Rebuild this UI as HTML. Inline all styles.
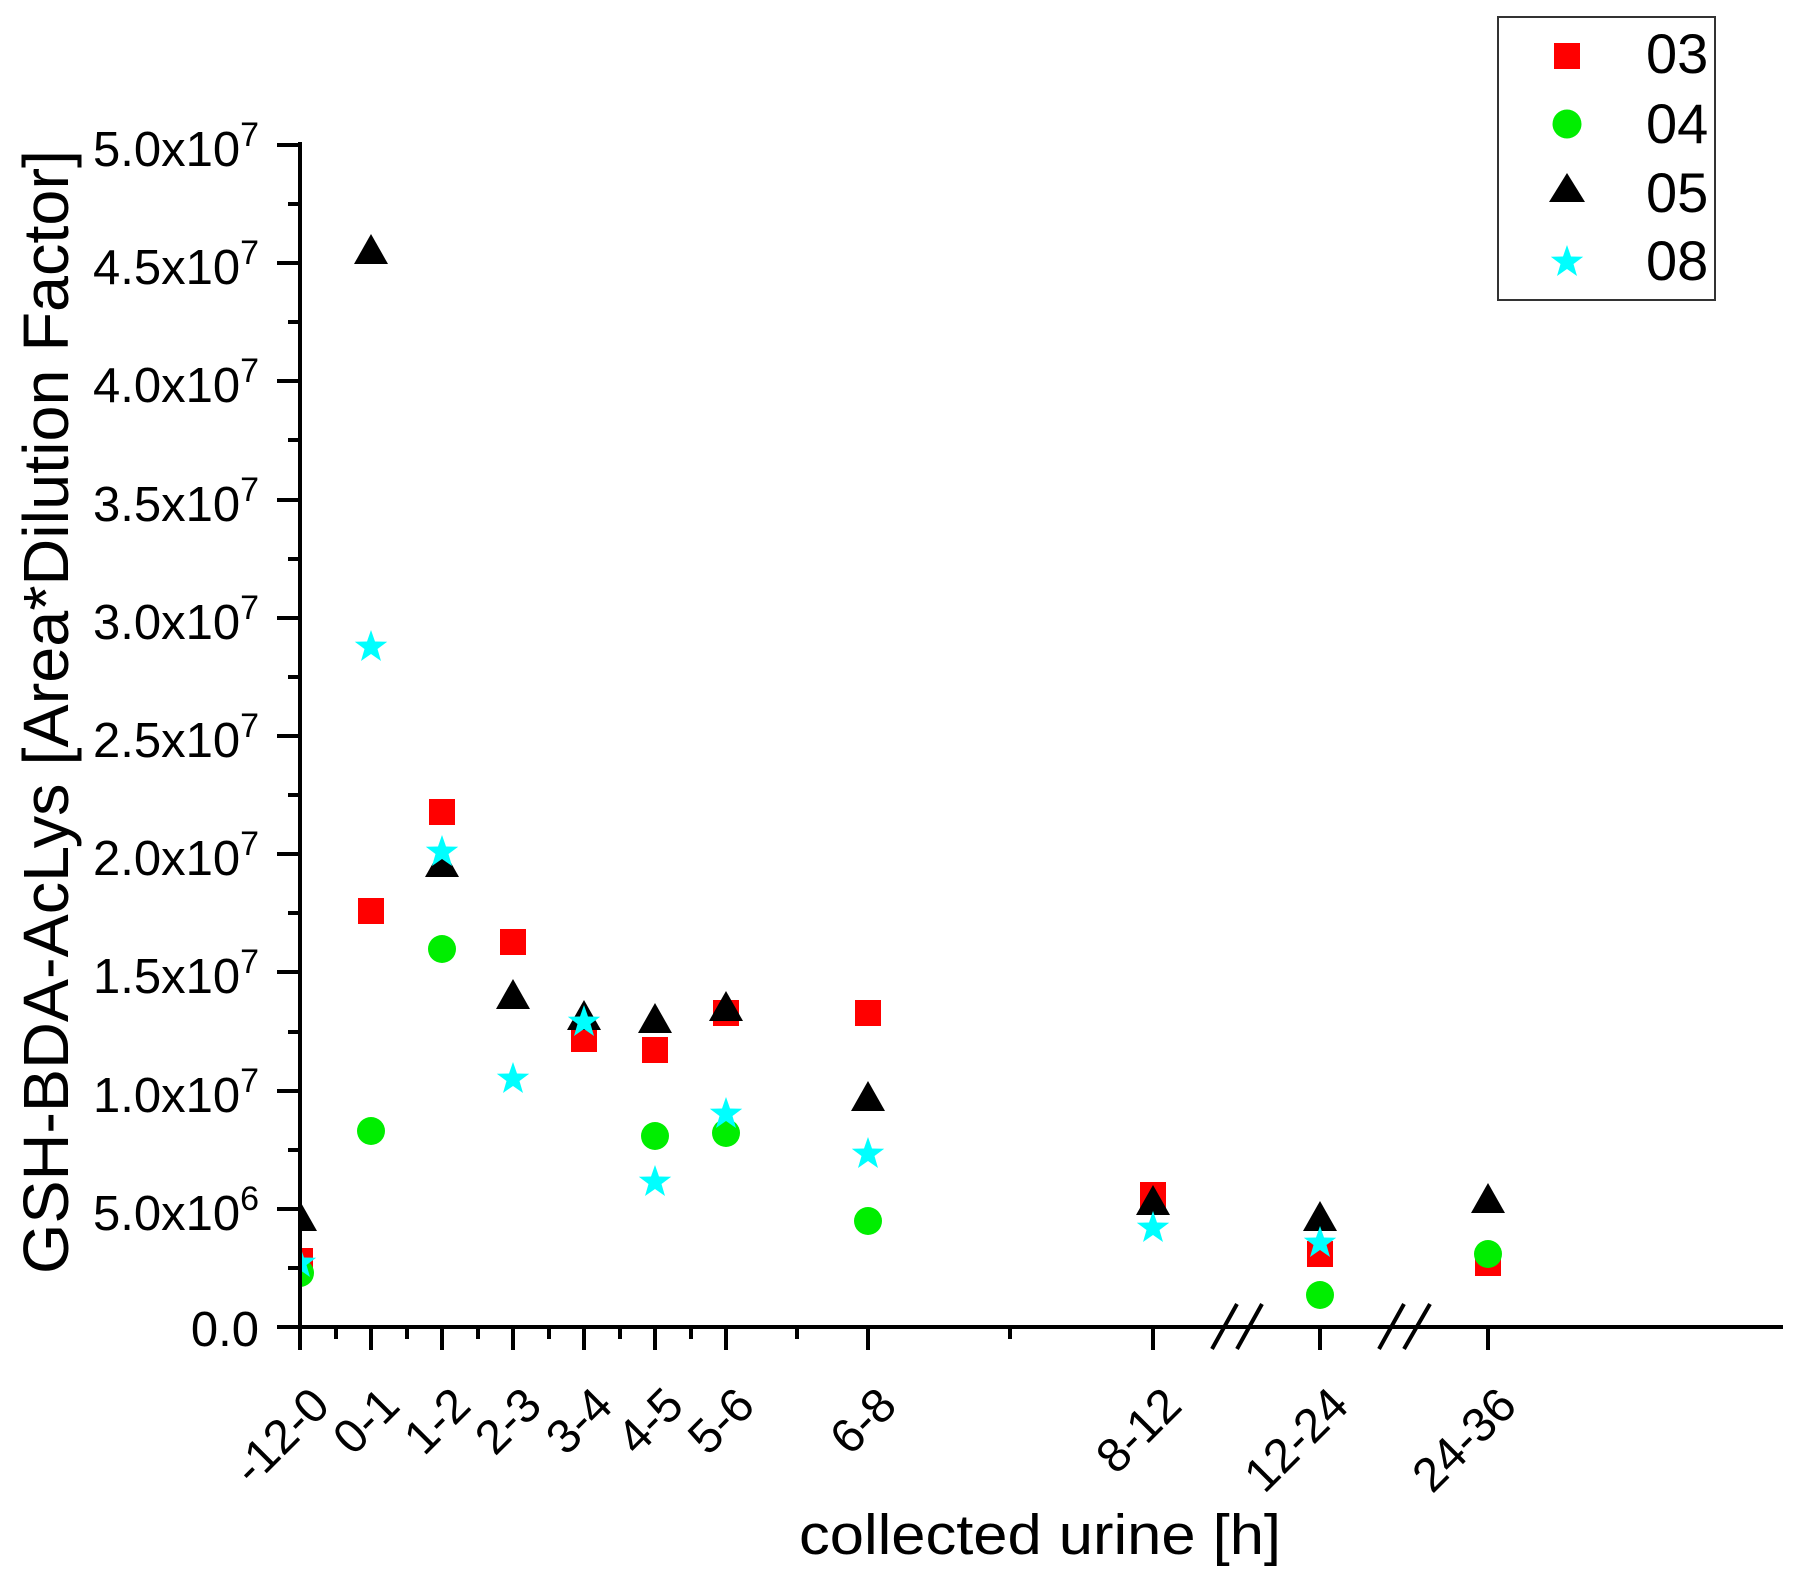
<!DOCTYPE html>
<html><head><meta charset="utf-8"><style>html,body{margin:0;padding:0;background:#fff}svg{display:block}</style></head>
<body>
<svg width="1800" height="1586" viewBox="0 0 1800 1586" xmlns="http://www.w3.org/2000/svg" font-family="Liberation Sans, Arial, sans-serif">
<defs>
<rect id="sq" x="-13" y="-13" width="26" height="26" fill="#ff0000"/>
<circle id="ci" r="14" fill="#00ee00"/>
<polygon id="tr" points="0,-17 17,13 -17,13" fill="#000"/>
<polygon id="st" points="0,-17 4,-5.5 16.2,-5.3 6.5,2 10,14 0,7 -10,14 -6.5,2 -16.2,-5.3 -4,-5.5" fill="#00ffff"/>
<clipPath id="cp"><rect x="301" y="0" width="1499" height="1326"/></clipPath>
</defs>
<g clip-path="url(#cp)">
<use href="#sq" x="300" y="1261"/><use href="#sq" x="371" y="911"/><use href="#sq" x="442" y="812"/><use href="#sq" x="513" y="942"/><use href="#sq" x="584" y="1039"/><use href="#sq" x="655" y="1050"/><use href="#sq" x="726" y="1013"/><use href="#sq" x="868" y="1013"/><use href="#sq" x="1153" y="1195"/><use href="#sq" x="1320" y="1254"/><use href="#sq" x="1488" y="1263"/>
<use href="#ci" x="300" y="1273"/><use href="#ci" x="371" y="1131"/><use href="#ci" x="442" y="949"/><use href="#ci" x="655" y="1136"/><use href="#ci" x="726" y="1133"/><use href="#ci" x="868" y="1221"/><use href="#ci" x="1320" y="1295"/><use href="#ci" x="1488" y="1254"/>
<use href="#tr" x="300" y="1218"/><use href="#tr" x="371" y="251"/><use href="#tr" x="442" y="864"/><use href="#tr" x="513" y="996"/><use href="#tr" x="584" y="1017"/><use href="#tr" x="655" y="1020"/><use href="#tr" x="726" y="1008"/><use href="#tr" x="868" y="1098"/><use href="#tr" x="1153" y="1202"/><use href="#tr" x="1320" y="1218"/><use href="#tr" x="1488" y="1200"/>
<use href="#st" x="300" y="1263"/><use href="#st" x="371" y="647"/><use href="#st" x="442" y="852"/><use href="#st" x="513" y="1079"/><use href="#st" x="584" y="1022"/><use href="#st" x="655" y="1182"/><use href="#st" x="726" y="1114"/><use href="#st" x="868" y="1154"/><use href="#st" x="1153" y="1228"/><use href="#st" x="1320" y="1243"/>
</g>
<g stroke="#000" stroke-width="4" fill="none">
<line x1="300" y1="142" x2="300" y2="1329"/>
<line x1="298" y1="1327" x2="1783" y2="1327"/>
<path d="M277 1327H300M277 1209H300M277 1091H300M277 972H300M277 854H300M277 736H300M277 618H300M277 500H300M277 381H300M277 263H300M277 145H300"/>
<path d="M288 1268H300M288 1150H300M288 1032H300M288 913H300M288 795H300M288 677H300M288 559H300M288 440H300M288 322H300M288 204H300"/>
<path d="M300 1327V1350M371 1327V1350M442 1327V1350M513 1327V1350M584 1327V1350M655 1327V1350M726 1327V1350M868 1327V1350M1153 1327V1350M1320 1327V1350M1488 1327V1350"/>
<path d="M336 1327V1339M407 1327V1339M478 1327V1339M549 1327V1339M620 1327V1339M691 1327V1339M797 1327V1339M1010 1327V1339"/>
<path d="M1212 1349L1237 1304M1237 1349L1262 1304M1379 1349L1404 1304M1404 1349L1430 1304"/>
</g>
<g font-size="49" text-anchor="end" fill="#000">
<text x="259" y="1346">0.0</text>
<text x="259" y="1230">5.0x10<tspan font-size="34" dy="-20">6</tspan></text>
<text x="259" y="1112">1.0x10<tspan font-size="34" dy="-20">7</tspan></text>
<text x="259" y="993">1.5x10<tspan font-size="34" dy="-20">7</tspan></text>
<text x="259" y="875">2.0x10<tspan font-size="34" dy="-20">7</tspan></text>
<text x="259" y="757">2.5x10<tspan font-size="34" dy="-20">7</tspan></text>
<text x="259" y="639">3.0x10<tspan font-size="34" dy="-20">7</tspan></text>
<text x="259" y="521">3.5x10<tspan font-size="34" dy="-20">7</tspan></text>
<text x="259" y="402">4.0x10<tspan font-size="34" dy="-20">7</tspan></text>
<text x="259" y="284">4.5x10<tspan font-size="34" dy="-20">7</tspan></text>
<text x="259" y="166">5.0x10<tspan font-size="34" dy="-20">7</tspan></text>
</g>
<g font-size="48" text-anchor="end" fill="#000">
<text transform="translate(332,1408) rotate(-45)">-12-0</text>
<text transform="translate(402,1408) rotate(-45)">0-1</text>
<text transform="translate(473,1408) rotate(-45)">1-2</text>
<text transform="translate(544,1408) rotate(-45)">2-3</text>
<text transform="translate(615,1408) rotate(-45)">3-4</text>
<text transform="translate(686,1408) rotate(-45)">4-5</text>
<text transform="translate(757,1408) rotate(-45)">5-6</text>
<text transform="translate(899,1408) rotate(-45)">6-8</text>
<text transform="translate(1184,1408) rotate(-45)">8-12</text>
<text transform="translate(1351,1408) rotate(-45)">12-24</text>
<text transform="translate(1519,1408) rotate(-45)">24-36</text>
</g>
<text x="1040" y="1554" font-size="57" text-anchor="middle" textLength="482" lengthAdjust="spacingAndGlyphs">collected urine [h]</text>
<text transform="translate(68,712) rotate(-90)" font-size="64" text-anchor="middle" textLength="1124" lengthAdjust="spacingAndGlyphs">GSH-BDA-AcLys [Area*Dilution Factor]</text>
<rect x="1498" y="17" width="217" height="283" fill="none" stroke="#333" stroke-width="2"/>
<rect x="1554" y="43" width="26" height="26" fill="#ff0000"/>
<circle cx="1567" cy="124" r="14.5" fill="#00ee00"/>
<polygon points="1567,173 1585,202 1549,202" fill="#000"/>
<use href="#st" x="1567" y="262"/>
<g font-size="56" fill="#000">
<text x="1646" y="73">03</text>
<text x="1646" y="143">04</text>
<text x="1646" y="212">05</text>
<text x="1646" y="280">08</text>
</g>
</svg>
</body></html>
